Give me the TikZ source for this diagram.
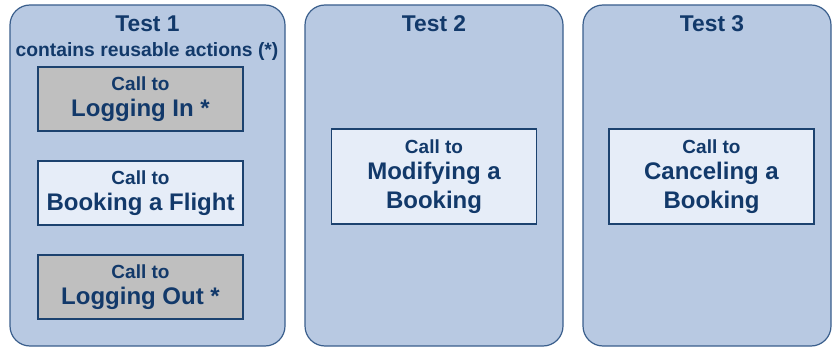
\documentclass[tikz,border=0pt]{standalone}
\usepackage{fontspec}
\setmainfont{Liberation Sans}
\definecolor{panelfill}{HTML}{B8C9E2}
\definecolor{paneldraw}{HTML}{3A5E8C}
\definecolor{boxfill}{HTML}{E6EDF8}
\definecolor{boxgray}{HTML}{BFBFBF}
\definecolor{boxdraw}{HTML}{1C426F}
\definecolor{ink}{HTML}{12396A}
\newcommand{\smallf}{\fontsize{19}{22}\selectfont}
\begin{document}
\begin{tikzpicture}[x=1pt,y=-1pt,
  panel/.style={draw=paneldraw,fill=panelfill,line width=1.2pt,rounded corners=20pt,
    minimum height=341pt,inner sep=0pt},
  title/.style={text=ink,font=\bfseries\fontsize{22.8}{26}\selectfont,anchor=base,inner sep=0pt},
  sub/.style={text=ink,font=\bfseries\fontsize{19.3}{22}\selectfont,anchor=base,inner sep=0pt},
  callbox/.style={draw=boxdraw,line width=1.6pt,fill=boxfill,minimum width=205pt,
    minimum height=64pt,inner sep=0pt,align=center,text=ink,
    font=\bfseries\fontsize{24}{28.5}\selectfont},
  graybox/.style={callbox,fill=boxgray},
  bigbox/.style={callbox,minimum height=95pt}]
\useasboundingbox (0,0) rectangle (832,347);
\node[panel,minimum width=275pt] (p1) at (147.5,175.5) {};
\node[panel,minimum width=258pt] (p2) at (434,175.5) {};
\node[panel,minimum width=248pt] (p3) at (707,175.5) {};
\node[title] (t1) at (147.5,32) {Test 1};
\node[sub] (s1) at (147,57) {contains reusable actions (*)};
\node[title] (t2) at (434,32) {Test 2};
\node[title] (t3) at (712,32) {Test 3};
\node[graybox] (login) at (140.5,99) {{\smallf Call to}\\[-2pt]Logging In *};
\node[callbox] (book) at (140.5,193) {{\smallf Call to}\\[-2pt]Booking a Flight};
\node[graybox] (logout) at (140.5,287) {{\smallf Call to}\\[-2pt]Logging Out *};
\node[bigbox] (modify) at (434,176.5) {{\smallf Call to}\\[-2pt]Modifying a\\Booking};
\node[bigbox] (cancel) at (711.5,176.5) {{\smallf Call to}\\[-2pt]Canceling a\\Booking};
\end{tikzpicture}
\end{document}
